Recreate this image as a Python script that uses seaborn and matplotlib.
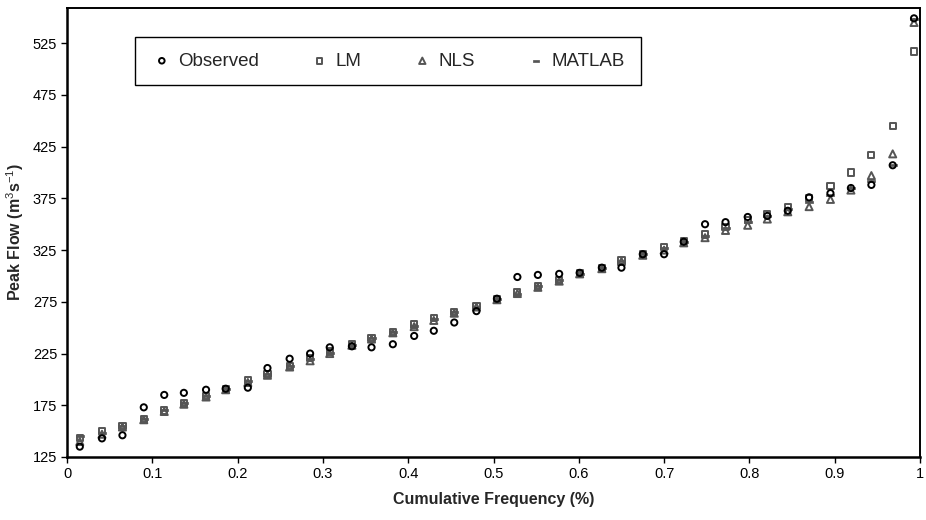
import numpy as np
import pandas as pd
import seaborn as sns
from matplotlib import pyplot as plt

# cumulative frequency (plotting positions)
cum_freq = [0.015, 0.041, 0.065, 0.090, 0.114, 0.137, 0.163, 0.186, 0.212, 0.235,
            0.261, 0.285, 0.308, 0.334, 0.357, 0.382, 0.407, 0.430, 0.454, 0.480,
            0.504, 0.528, 0.552, 0.577, 0.601, 0.627, 0.650, 0.675, 0.700, 0.723,
            0.748, 0.772, 0.798, 0.821, 0.845, 0.870, 0.895, 0.919, 0.943, 0.968,
            0.993]

observed = [135, 143, 146, 173, 185, 187, 190, 191, 192, 211,
            220, 225, 231, 232, 231, 234, 242, 247, 255, 266,
            278, 299, 301, 302, 303, 308, 308, 321, 321, 333,
            350, 352, 357, 358, 363, 376, 380, 385, 388, 407,
            549]
lm = [143, 150, 155, 162, 170, 177, 184, 191, 199, 205,
      213, 221, 227, 234, 240, 246, 253, 259, 265, 271,
      278, 284, 290, 296, 303, 308, 315, 321, 328, 334,
      340, 347, 354, 360, 367, 375, 387, 400, 417, 445,
      517]
nls = [140, 147, 154, 161, 169, 176, 183, 190, 197, 204,
       212, 218, 225, 233, 239, 245, 251, 257, 264, 270,
       277, 283, 289, 295, 302, 307, 314, 320, 325, 332,
       337, 344, 349, 355, 362, 367, 374, 383, 397, 418,
       545]
matlab = [145, 148, 155, 162, 170, 177, 184, 191, 198, 205,
          213, 220, 226, 233, 240, 246, 252, 258, 265, 270,
          278, 283, 290, 296, 302, 308, 314, 321, 327, 333,
          339, 346, 352, 358, 365, 371, 378, 385, 392, 407,
          548]

x_ticks = [0, 0.1, 0.2, 0.3, 0.4, 0.5, 0.6, 0.7, 0.8, 0.9, 1.0]
x_tick_labels = ['0', '0.1', '0.2', '0.3', '0.4', '0.5', '0.6', '0.7', '0.8', '0.9', '1']
y_ticks = [125, 175, 225, 275, 325, 375, 425, 475, 525]

sns.set_theme(style='white')
plt.rcParams['font.family'] = ['Liberation Sans', 'DejaVu Sans']
plt.rcParams['mathtext.fontset'] = 'custom'
plt.rcParams['mathtext.rm'] = 'Liberation Sans'
plt.rcParams['mathtext.bf'] = 'Liberation Sans:bold'

fig = plt.figure(figsize=(9.26, 5.2), dpi=100)
ax = fig.add_axes([67 / 926, 1 - 457 / 520, (920 - 67) / 926, (457 - 8) / 520])

gray = '#555555'
# dash marker for the MATLAB series
dash = [(-1, -0.35), (1, -0.35), (1, 0.35), (-1, 0.35), (-1, -0.35)]

sns.scatterplot(x=cum_freq, y=lm, marker='s', s=20, facecolors='none',
                edgecolors=gray, linewidths=1.4, ax=ax, label='LM', zorder=3)
sns.scatterplot(x=cum_freq, y=nls, marker='^', s=26, facecolors='none',
                edgecolors=gray, linewidths=1.4, ax=ax, label='NLS', zorder=3)
sns.scatterplot(x=cum_freq, y=matlab, marker=dash, s=30, color=gray,
                edgecolors=gray, linewidths=0.5, ax=ax, label='MATLAB', zorder=3)
sns.scatterplot(x=cum_freq, y=observed, marker='o', s=20, facecolors='none',
                edgecolors='black', linewidths=1.4, ax=ax, label='Observed', zorder=4)

ax.set_xlim(0, 1)
ax.set_ylim(125, 559)
ax.set_xticks(x_ticks)
ax.set_xticklabels(x_tick_labels)
ax.set_yticks(y_ticks)
ax.tick_params(axis='both', direction='out', length=4, width=1, colors='black',
               labelsize=10.5, bottom=True, left=True, pad=3)

for side in ['left', 'bottom']:
    ax.spines[side].set_linewidth(1.8)
    ax.spines[side].set_color('black')
for side in ['top', 'right']:
    ax.spines[side].set_linewidth(1.4)
    ax.spines[side].set_color('black')

ax.set_xlabel('Cumulative Frequency (%)', fontsize=11.5, fontweight='bold', labelpad=8)
ax.set_ylabel(r'Peak Flow (m$^{3}$s$^{-1}$)', fontsize=11.5, fontweight='bold', labelpad=5)

# legend in Excel style order
handles, labels = ax.get_legend_handles_labels()
order = [labels.index(l) for l in ['Observed', 'LM', 'NLS', 'MATLAB']]
leg = ax.legend([handles[i] for i in order], [labels[i] for i in order],
                ncol=4, loc='upper left',
                bbox_to_anchor=(135 / 926, 1 - 37 / 520),
                bbox_transform=fig.transFigure,
                fontsize=13.5, frameon=True, fancybox=False, framealpha=1,
                borderpad=0.83, handlelength=1.2, handletextpad=0.25,
                columnspacing=2.65, borderaxespad=0, markerscale=0.9)
leg.get_frame().set_edgecolor('black')
leg.get_frame().set_linewidth(1.0)

fig.savefig('out.png', dpi=100)
